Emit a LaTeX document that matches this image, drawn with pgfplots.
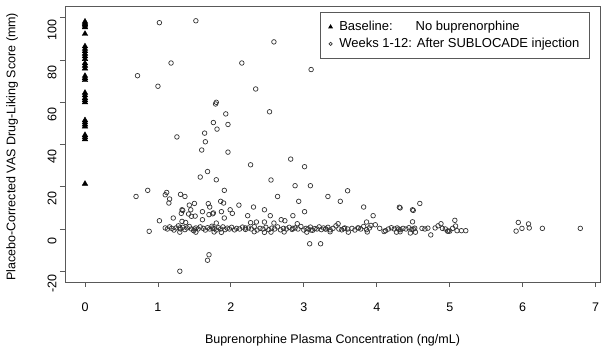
\documentclass[border=0pt]{standalone}
\usepackage{pgfplots}
\pgfplotsset{compat=1.18}
\usepackage{fontspec}
\setmainfont{Liberation Sans}
\definecolor{axgray}{gray}{0.35}
\definecolor{ptgray}{gray}{0.2}
\begin{document}
\begin{tikzpicture}[font=\fontsize{12.5}{15}\selectfont]
\useasboundingbox (-65pt,-71pt) rectangle (543pt,282pt);
\begin{axis}[
  at={(0pt,0pt)}, anchor=south west,
  scale only axis, width=535pt, height=276pt,
  xmin=-0.274, xmax=7.06, ymin=-25.1, ymax=105.6,
  axis line style={axgray, line width=0.8pt},
  xtick={0,1,2,3,4,5,6,7}, ytick={-20,0,20,40,60,80,100},
  tick align=outside, xtick pos=left, ytick pos=left,
  major tick length=5pt,
  tick style={axgray, line width=0.8pt},
  /pgf/number format/assume math mode=true,
  ticklabel style={font=\fontsize{12.5}{15}\selectfont},
  xticklabel style={yshift=-12pt},
  yticklabel style={rotate=90, anchor=south, xshift=-12pt},
  xlabel={Buprenorphine Plasma Concentration (ng/mL)},
  ylabel={Placebo-Corrected VAS Drug-Liking Score (mm)},
  xlabel style={at={(axis description cs:0.5,-0.212)}, anchor=center, font=\fontsize{12.5}{15}\selectfont},
  ylabel style={at={(axis description cs:-0.099,0.49)}, anchor=center, rotate=0, font=\fontsize{12.5}{15}\selectfont},
  legend style={at={(axis description cs:0.981,0.978)}, anchor=north east,
    draw=axgray, line width=0.8pt, font=\fontsize{13}{15}\selectfont,
    inner xsep=8pt, inner ysep=7pt, row sep=2pt,
    /tikz/every odd column/.append style={column sep=5pt}},
  legend cell align=left,
]
\addplot[only marks, mark=triangle*, mark size=3.2pt, black,
  legend image post style={mark size=2pt}]
coordinates {
(0,98.2)(0,97.6)(0,97.0)(0,96.3)(0,95.5)(0,92.4)(0,86.5)(0,85.3)(0,84.2)(0,83.0)
(0,81.8)(0,80.5)(0,78.5)(0,77.3)(0,76.0)(0,72.5)(0,71.5)(0,70.5)(0,64.5)(0,63.3)
(0,62.0)(0,61.0)(0,60.0)(0,51.5)(0,50.5)(0,49.5)(0,48.5)(0,44.5)(0,43.5)(0,42.5)
(0,21.4)
};
\addlegendentry{\rlap{Baseline:}\phantom{Weeks 1-12:} No buprenorphine}
\addplot[only marks, mark=o, mark size=2.3pt, ptgray, mark options={line width=0.7pt},
  legend image post style={mark size=1.6pt}]
coordinates {
(1.02,97.7)(1.52,98.6)(2.59,88.6)(1.18,78.6)(2.15,78.6)(3.10,75.5)(0.72,72.6)(1.00,67.6)
(2.34,66.3)(1.80,60.0)(1.79,59.2)(1.93,54.5)(2.53,55.5)(1.76,50.4)(1.96,49.5)(1.81,47.3)
(1.64,45.4)(1.26,43.6)(1.65,41.3)(1.60,37.4)(1.96,36.4)(2.82,33.1)(2.27,30.4)(3.01,29.5)
(1.68,27.2)(1.58,24.6)(1.80,23.3)(2.55,23.2)(2.88,20.5)(3.09,20.5)(0.86,18.3)(1.91,18.3)
(1.12,17.3)(1.10,16.2)(1.31,16.4)(1.37,15.4)(3.33,15.4)(2.64,15.4)(0.70,15.4)(3.60,18.1)
(1.16,14.2)(1.15,12.3)(2.93,13.1)(3.50,13.1)(1.86,13.1)(1.90,12.3)(1.69,12.0)(1.50,12.1)
(4.59,12.1)
(1.43,11.3)(2.11,11.3)(1.71,10.4)(2.31,10.4)(3.82,10.4)(4.31,10.3)(4.32,10.0)(1.99,9.1)
(2.46,9.1)(1.33,9.1)(1.45,9.1)(4.49,9.1)(4.50,8.8)(1.34,8.8)(1.61,8.2)(1.87,8.2)(3.01,8.2)
(1.76,7.6)(1.32,7.4)(2.02,7.4)(1.42,7.1)(1.70,6.8)(1.75,7.2)(1.51,6.1)(1.46,6.0)(2.23,6.3)
(2.54,6.3)(2.85,6.3)(3.95,6.3)(1.21,5.2)(1.91,5.2)(1.61,4.4)(2.69,4.4)(5.07,4.1)(1.02,3.9)
(2.74,3.9)(1.38,3.1)(1.33,3.6)(2.27,3.0)(2.35,3.3)(2.46,3.3)(2.59,2.8)(1.80,2.8)(5.94,3.1)
(4.49,3.4)(4.88,2.5)(2.91,2.5)(3.47,2.5)(3.86,3.3)(3.92,1.7)(6.08,2.4)(5.08,1.4)
(0.88,-1.1)(1.68,-14.8)(1.70,-12.2)(1.30,-20.0)(3.08,-7.0)(3.23,-7.0)(4.74,-2.8)(5.91,-1.0)
(4.46,-1.9)
(1.30,-1.5)(1.52,-1.5)(1.77,-1.4)(1.87,-1.6)(2.32,-1.3)(2.46,-1.6)(2.55,-1.5)(2.73,-1.4)
(3.04,-1.5)(3.36,-1.3)(3.61,-1.5)(3.87,-1.4)(4.10,-1.2)(4.27,-1.5)(4.32,-1.3)(4.53,-1.5)
(5.99,0.3)(6.09,0.5)(6.27,0.3)(6.79,0.3)
(1.10,0.5)(1.13,0.0)(1.16,1.0)(1.19,0.3)(1.22,-0.5)(1.25,0.5)(1.28,1.5)(1.31,0.0)
(1.34,0.8)(1.37,-0.3)(1.40,0.5)(1.43,1.2)(1.46,0.0)(1.49,-0.8)(1.52,0.5)(1.55,0.0)
(1.58,1.0)(1.62,0.3)(1.65,-0.5)(1.68,0.6)(1.71,0.0)(1.74,1.3)(1.77,0.2)(1.80,-0.5)
(1.83,0.6)(1.86,0.0)(1.89,1.0)(1.92,-0.3)(1.95,0.4)(1.98,0.0)(2.01,0.8)(2.05,-0.4)
(2.08,0.3)(2.12,0.0)(2.16,0.9)(2.20,-0.2)(2.24,0.5)(2.28,0.0)(2.32,1.1)(2.36,-0.5)
(2.40,0.3)(2.44,0.0)(2.48,0.8)(2.52,-0.3)(2.56,0.4)(2.60,0.0)(2.64,1.0)(2.68,-0.4)
(2.72,0.3)(2.76,0.0)(2.80,0.8)(2.84,-0.2)(2.88,0.5)(2.92,0.0)(2.96,1.2)(3.00,-0.5)
(3.03,0.3)(3.06,0.0)(3.09,0.9)(3.12,-0.6)(3.15,0.2)(3.18,0.0)(3.21,1.0)(3.24,-0.3)
(3.27,0.5)(3.30,0.0)(3.33,0.8)(3.36,-0.4)(3.40,0.3)(3.44,1.5)(3.48,0.0)(3.52,-0.4)
(3.56,0.5)(3.60,0.0)(3.66,0.3)(3.70,-0.5)(3.74,0.5)(3.78,0.0)(3.82,1.2)(3.86,-0.3)
(3.90,0.5)(3.98,2.0)(4.04,0.3)(4.12,-0.8)(4.16,0.0)(4.20,0.6)(4.24,0.0)(4.28,0.5)
(4.32,-0.3)(4.36,0.3)(4.40,0.0)(4.44,0.6)(4.48,-0.2)(4.52,0.4)(4.62,0.3)(4.66,0.0)
(4.70,0.4)(4.80,0.5)(4.84,1.5)(4.90,0.3)(4.94,0.0)(4.97,-1.0)(5.00,-1.0)(5.04,0.3)
(5.10,-0.8)(5.16,-0.8)(5.22,-0.8)
(1.30,0.5)(1.50,0.0)(1.75,0.5)(3.10,-0.5)(3.30,0.0)(4.30,0.0)(4.50,0.0)(4.98,-1.0)
(2.20,0.5)(2.85,0.3)(3.55,0.2)(3.75,0.5)
};
\addlegendentry{Weeks 1-12: After SUBLOCADE injection}
\end{axis}
\end{tikzpicture}
\end{document}
